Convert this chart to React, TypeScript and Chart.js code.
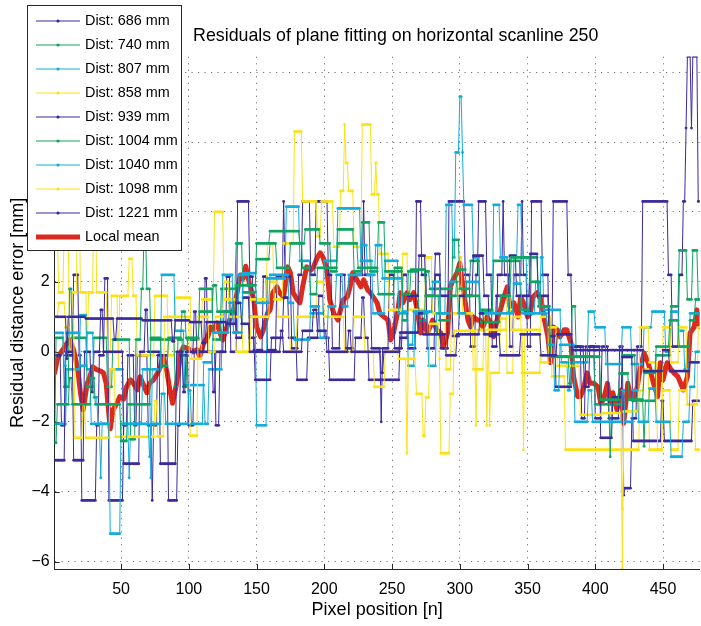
import React, { useEffect, useRef } from 'react';
import { Chart, registerables } from 'chart.js';

Chart.register(...registerables);

type Run = [number, number];

const FONT = '"Liberation Sans", Arial, Helvetica, sans-serif';

const chartTitle = 'Residuals of plane fitting on horizontal scanline 250';
const xLabel = 'Pixel position [n]';
const yLabel = 'Residual distance error [mm]';

const pixelRange: [number, number] = [1, 477];
const errorRange: [number, number] = [-6.21, 8.44];
const xTickValues = [50, 100, 150, 200, 250, 300, 350, 400, 450];
const yTickValues = [-6, -4, -2, 0, 2, 4, 6, 8];

const distanceLabels = [
  'Dist: 686 mm', 'Dist: 740 mm', 'Dist: 807 mm', 'Dist: 858 mm', 'Dist: 939 mm',
  'Dist: 1004 mm', 'Dist: 1040 mm', 'Dist: 1098 mm', 'Dist: 1221 mm',
];
const lineColors = [
  '#3b2a9c', '#10a462', '#13acdc', '#fbe11a', '#3b2a9c',
  '#10a462', '#13acdc', '#fbe11a', '#3b2a9c',
];
const meanLabel = 'Local mean';
const meanColor = '#db2a1e';

// Each scanline residual is stored as runs: [first pixel, residual in mm],
// the value holds for every pixel until the next run starts.
const dist686: Run[] = [
  [1, 1.0], [10, -0.2], [11, 1.0], [24, 0.95], [45, 0.35], [47, 0.95], [66, 0.9], [88, 0.3], [90, 0.9],
  [101, 0.85], [110, 0.25], [113, 0.85], [128, 0.8], [135, 1.4], [139, 0.8], [145, 0.0], [168, 0.6],
  [170, 0.0], [184, 0.6], [192, 1.2], [195, 0.6], [202, 0.0], [218, 0.6], [220, 0.0], [242, -0.6],
  [244, 0.0], [256, 0.55], [270, 1.1], [273, 0.5], [290, -0.1], [298, 0.5], [315, 1.1], [318, 0.5],
  [330, -0.1], [345, 0.5], [360, -0.1], [372, 0.5], [383, 0.05], [436, -0.55], [450, 0.05], [455, -0.55],
  [470, -0.3],
];
const dist740: Run[] = [
  [1, -2.6], [3, -1.5], [12, -0.75], [14, -1.5], [28, -0.75], [31, -1.5], [50, -2.55], [55, -1.5],
  [72, 0.4], [80, -0.4], [85, 0.4], [95, 1.15], [98, 0.4], [108, 1.15], [118, 1.9], [121, 1.15],
  [135, 1.9], [150, 2.65], [160, 3.1], [165, 2.4], [175, 3.1], [184, 2.4], [190, 1.65], [195, 2.4],
  [210, 3.1], [225, 2.4], [240, 1.65], [252, 2.4], [258, 1.65], [264, 2.35], [275, 1.6], [285, 0.9],
  [293, 1.6], [298, 2.35], [305, 1.6], [315, 0.85], [330, 1.6], [338, 2.7], [352, 2.0], [360, 1.3],
  [367, -0.14], [381, -0.9], [383, -0.14], [404, -1.37], [418, -0.62], [425, -1.37], [436, -0.6],
  [445, 0.15], [455, 0.9], [462, 0.15], [470, 0.9], [474, 1.5],
];
const dist807: Run[] = [
  [1, 0.54], [8, -0.4], [10, 0.54], [20, -0.4], [25, 0.54], [30, -1.3], [33, -2.06], [42, -5.2],
  [50, -2.06], [71, -3.0], [72, -2.06], [80, -1.2], [83, -2.06], [100, -1.1], [102, -2.06], [111, -0.3],
  [118, 0.55], [130, 1.4], [133, 0.55], [140, 2.25], [150, 1.4], [160, 2.2], [174, 1.4], [178, 0.35],
  [190, 1.3], [197, 0.4], [203, 1.3], [209, 2.2], [214, 1.3], [218, 2.2], [228, 3.05], [232, 2.2],
  [238, 3.05], [243, 2.1], [258, 1.15], [262, 0.2], [266, 1.15], [280, 2.0], [286, 1.1], [293, 2.0],
  [299, 1.1], [305, 2.0], [315, 1.1], [340, 1.95], [346, 1.1], [356, 2.0], [359, 1.1], [365, 0.2],
  [370, -1.1], [374, 0.2], [385, -2.0], [395, -1.1], [398, -2.0], [420, -1.1], [422, -2.0], [428, -1.1],
  [432, -2.0], [440, -1.05], [445, -2.0], [456, -3.0], [465, -2.0], [470, -1.0], [474, 0.0],
];
const dist858: Run[] = [
  [1, 1.0], [4, 1.4], [9, 0.7], [12, 1.0], [16, -2.46], [22, -1.5], [24, -2.46], [42, -0.5], [46, -2.43],
  [75, -1.4], [77, -2.42], [82, 1.0], [101, -2.4], [107, 1.0], [115, 0.0], [120, 1.0], [126, 2.0],
  [130, 1.0], [140, 0.0], [146, 1.0], [160, 2.0], [166, 1.0], [175, 0.0], [180, 1.0], [195, 2.0],
  [200, 1.0], [215, 0.0], [222, 1.0], [230, 0.0], [237, -1.0], [245, 0.0], [255, -0.2], [261, -2.9],
  [262, -0.2], [268, -1.2], [273, -2.4], [275, -1.3], [278, 0.8], [285, -0.2], [286, -2.9], [293, -1.2],
  [296, 0.6], [312, -2.1], [313, 0.63], [320, -2.1], [321, 0.63], [335, 1.6], [338, 0.63], [347, -2.8],
  [348, 0.63], [360, -0.3], [366, 0.7], [372, -0.4], [389, -1.8], [405, -1.75], [420, -6.2], [421, -1.7],
  [433, 0.7], [440, -0.3], [446, -2.8], [450, 0.7], [456, -0.3], [462, 0.7], [468, -1.5], [476, 0.7],
];
const dist939: Run[] = [
  [1, -3.1], [9, 0.0], [15, -3.1], [23, 0.0], [28, -1.15], [30, 0.0], [35, 1.2], [37, 0.0], [52, -3.2],
  [64, 0.0], [68, 1.2], [70, 0.0], [79, -3.2], [91, 0.0], [96, -1.15], [98, 0.0], [104, 1.15], [106, 0.0],
  [118, -1.15], [120, 0.0], [126, 1.15], [135, 0.4], [140, 1.55], [145, 0.4], [149, -0.8], [161, 0.4],
  [170, 1.55], [174, 0.4], [180, -0.8], [188, 0.4], [196, 1.6], [200, 0.4], [204, -0.8], [223, 0.4],
  [228, 1.55], [230, 0.4], [233, -0.8], [256, 0.4], [262, 1.6], [270, 2.75], [275, 1.6], [282, 2.8],
  [286, 1.6], [295, 0.45], [300, 1.6], [310, 2.75], [318, 1.6], [322, 0.45], [327, 1.6], [337, 2.75],
  [342, 1.6], [352, 2.8], [358, 1.6], [366, 0.45], [371, -1.0], [383, 0.15], [392, -1.0], [396, 0.15],
  [404, -2.46], [413, -1.3], [420, -0.15], [428, -2.55], [449, -1.4], [451, -2.55], [472, -1.4],
];
const dist1004: Run[] = [
  [1, -2.6], [2, 0.4], [8, -1.0], [12, 1.8], [14, 0.4], [25, -1.0], [30, 0.4], [40, -1.0], [44, 0.35],
  [57, -2.5], [61, 0.35], [65, 1.8], [67, 3.6], [69, 1.8], [72, 0.35], [90, -1.0], [92, 0.35], [96, -1.0],
  [99, 0.35], [108, 1.8], [118, 0.35], [124, 1.8], [135, 3.1], [140, 1.7], [150, 3.1], [160, 3.45],
  [182, 3.1], [186, 3.5], [197, 3.1], [205, 2.3], [210, 3.5], [222, 2.3], [228, 3.7], [234, 2.3],
  [240, 3.7], [245, 2.3], [258, 0.9], [262, 2.3], [270, 0.9], [275, 2.3], [278, 1.8], [295, 3.2],
  [300, 1.8], [308, 2.6], [315, 1.2], [325, 2.6], [345, 1.2], [352, 2.7], [358, 1.3], [367, -0.14],
  [383, 1.3], [386, -0.14], [400, -1.5], [411, -3.0], [412, -1.5], [420, -0.1], [430, -1.4], [436, -2.7],
  [437, -1.4], [445, -0.1], [456, 1.3], [462, 2.9], [468, 1.5], [472, 2.9], [476, 1.5],
];
const dist1040: Run[] = [
  [1, -2.06], [10, -0.5], [20, 1.05], [25, -0.5], [28, -2.06], [35, -3.6], [36, -2.06], [42, -0.5],
  [52, -2.06], [56, -3.6], [57, -2.06], [66, -0.5], [72, -3.6], [73, -0.5], [80, 2.2], [90, 0.6],
  [97, -0.95], [112, -2.06], [115, -0.5], [125, 2.2], [133, 0.55], [137, 2.2], [145, 1.0], [150, -2.1],
  [158, 2.1], [172, 4.15], [182, 2.6], [190, 1.1], [200, 2.6], [210, 4.1], [227, 2.6], [236, 1.1],
  [245, 2.6], [255, 1.1], [262, -0.4], [267, 1.1], [277, -0.4], [283, 1.1], [290, 4.2], [295, 2.7],
  [297, 5.7], [300, 7.3], [302, 5.7], [303, 4.2], [310, 2.7], [315, 1.15], [325, 4.2], [330, 2.7],
  [336, 1.15], [340, 2.7], [343, 4.2], [346, 2.7], [350, 1.1], [360, 2.7], [362, 1.2], [375, -0.3],
  [380, -1.1], [382, -0.3], [395, 1.15], [400, 0.7], [408, -0.35], [420, 0.7], [427, -0.35], [436, 0.7],
  [442, 1.15], [452, 0.0], [456, 1.15], [462, 0.6], [466, -0.5], [470, 1.1],
];
const dist1098: Run[] = [
  [1, 3.4], [4, 1.7], [8, 3.4], [12, 0.0], [14, 1.7], [18, 5.0], [20, 1.7], [25, 0.0], [26, 1.7],
  [30, 5.1], [32, 1.7], [40, 0.0], [43, 1.6], [48, -0.5], [49, 1.6], [56, 2.66], [59, 1.6], [62, -0.1],
  [75, 1.6], [85, -0.1], [90, 1.55], [102, -0.2], [110, 1.5], [119, 4.0], [126, 1.5], [135, 0.0],
  [145, 1.5], [158, 3.1], [163, 1.5], [170, 3.1], [178, 6.3], [184, 4.3], [195, 3.3], [198, 4.3],
  [207, 3.0], [212, 4.6], [215, 6.5], [216, 5.4], [218, 4.6], [222, 3.0], [228, 6.5], [235, 4.5],
  [238, 5.4], [239, 4.5], [241, 2.8], [248, 1.2], [258, 2.8], [262, 1.2], [275, 2.7], [280, 1.1],
  [290, -0.5], [294, 1.1], [300, 2.7], [302, 1.1], [310, -0.5], [318, 1.1], [322, -2.1], [323, -0.6],
  [330, 0.95], [335, -0.6], [340, 1.0], [346, -0.6], [360, 1.0], [368, -0.7], [378, -2.8], [420, -4.5],
  [421, -2.8], [433, -1.1], [436, -0.5], [440, -2.8], [450, -1.1], [456, -2.8], [462, -1.1], [468, -1.5],
  [474, -2.8],
];
const dist1221: Run[] = [
  [1, -0.1], [6, -2.1], [9, -0.1], [15, 2.2], [19, -0.1], [21, -4.25], [32, -2.1], [34, -0.1], [38, 2.1],
  [41, -4.25], [52, -2.1], [55, -0.1], [60, -2.1], [62, -0.1], [70, -2.1], [73, -4.25], [74, -2.1],
  [77, -0.1], [85, -4.25], [92, -2.1], [94, -0.1], [100, -2.1], [104, 0.0], [112, 2.1], [114, 0.0],
  [120, -2.1], [123, 0.0], [128, 2.15], [131, 0.0], [136, 4.3], [145, 2.15], [148, 0.05], [155, 2.15],
  [158, 0.05], [165, 2.15], [170, 4.3], [171, 2.15], [176, 0.1], [181, 2.2], [184, 4.3], [190, 2.2],
  [194, 4.3], [203, 2.2], [206, 0.1], [212, 2.2], [216, 0.1], [222, 2.2], [229, 4.3], [230, 2.2],
  [235, 0.1], [242, -2.0], [243, 0.1], [248, 2.2], [252, 0.1], [258, 2.2], [262, 0.1], [268, 4.3],
  [272, 2.2], [276, 0.1], [282, 2.2], [286, 0.1], [292, 4.3], [304, 2.2], [308, 0.15], [312, 2.2],
  [314, 4.3], [320, 2.2], [324, 0.15], [328, 2.2], [332, 4.3], [333, 2.2], [337, 0.15], [340, 2.2],
  [346, 4.3], [347, 2.2], [350, 0.15], [353, 4.3], [361, 2.2], [366, 0.15], [369, 4.3], [380, 2.2],
  [383, 0.15], [390, -1.9], [393, 0.15], [400, -1.9], [405, 0.15], [410, -1.9], [418, 0.15], [421, -4.1],
  [422, -3.9], [427, -1.9], [431, 0.15], [435, 4.3], [454, 2.2], [457, 0.15], [462, 2.2], [465, 4.3],
  [467, 6.4], [468, 8.45], [471, 6.4], [472, 8.45], [476, 4.3],
];

// Local mean over all scanlines: [pixel, mean residual in mm]
const localMean: Run[] = [
  [1, -0.6], [3, -0.2], [5, -0.05], [7, 0.06], [10, 0.25], [12, 0.34], [15, 0.05], [18, -0.5], [20, -1.17],
  [22, -1.66], [25, -0.9], [27, -0.7], [29, -0.43], [32, -0.51], [35, -0.55], [37, -0.6], [39, -0.9],
  [40, -1.37], [42, -2.2], [44, -1.66], [47, -1.47], [49, -1.28], [52, -1.35], [54, -1.0], [57, -0.8],
  [59, -0.9], [62, -1.09], [64, -0.71], [66, -0.9], [69, -1.17], [71, -0.9], [74, -0.8], [77, -0.6],
  [79, -0.43], [81, -0.14], [84, -0.6], [86, -1.09], [88, -1.47], [91, -0.9], [94, -0.03], [96, 0.14],
  [99, 0.1], [101, 0.06], [103, 0.0], [106, 0.06], [108, -0.14], [111, 0.26], [114, 0.43], [116, 0.71],
  [118, 0.63], [121, 0.83], [123, 0.54], [125, 0.34], [128, 0.7], [131, 1.0], [133, 1.2], [136, 1.77],
  [138, 2.2], [140, 2.1], [142, 2.45], [145, 1.9], [148, 1.49], [150, 0.71], [153, 0.43], [155, 0.63],
  [158, 1.1], [160, 1.2], [162, 1.69], [165, 1.86], [167, 1.69], [170, 1.57], [173, 2.43], [175, 2.26],
  [177, 1.69], [180, 1.49], [182, 1.4], [184, 1.86], [187, 2.43], [190, 2.34], [192, 2.43], [195, 2.71],
  [197, 2.83], [199, 2.71], [202, 2.34], [204, 1.49], [207, 1.1], [210, 0.91], [212, 1.2], [214, 1.49],
  [217, 1.57], [219, 1.86], [221, 2.26], [224, 2.06], [227, 1.86], [229, 2.06], [232, 1.77], [234, 1.69],
  [236, 1.57], [239, 1.4], [241, 1.1], [244, 1.0], [247, 0.91], [249, 0.34], [251, 0.54], [254, 1.1],
  [256, 1.69], [258, 1.4], [261, 1.69], [263, 1.49], [266, 1.69], [269, 1.1], [271, 0.54], [273, 0.91],
  [276, 0.54], [278, 0.71], [280, 0.91], [283, 0.63], [286, 0.54], [288, 0.14], [291, 0.54], [293, 1.86],
  [295, 2.06], [298, 2.26], [300, 2.54], [303, 1.69], [306, 0.91], [308, 0.71], [310, 1.0], [313, 0.91],
  [315, 0.91], [317, 0.71], [320, 1.0], [323, 0.83], [325, 0.43], [328, 1.0], [330, 1.2], [332, 1.49],
  [335, 1.86], [337, 1.29], [340, 1.4], [343, 1.0], [345, 1.57], [347, 1.4], [350, 1.0], [352, 1.1],
  [354, 1.57], [357, 1.69], [360, 1.49], [362, 1.0], [365, 0.43], [367, -0.31], [369, 0.71], [372, 0.63],
  [374, 0.43], [377, 0.63], [379, 0.63], [382, 0.26], [384, -0.71], [387, -1.28], [389, -1.28],
  [391, -1.09], [394, -0.6], [396, -0.9], [399, -0.9], [402, -1.0], [404, -1.47], [406, -1.37],
  [409, -0.9], [411, -1.47], [413, -1.17], [416, -1.66], [419, -1.09], [421, -2.04], [424, -0.9],
  [426, -1.28], [428, -1.37], [431, -1.0], [433, -0.51], [436, -0.03], [439, -0.31], [441, -0.6],
  [443, -0.9], [446, -1.28], [448, -0.31], [450, -0.8], [453, -0.31], [456, -0.51], [458, -0.6],
  [461, -0.71], [463, -0.9], [465, -1.09], [468, -0.71], [470, 0.54], [473, 0.71], [475, 1.2], [477, 0.71],
];

const scanlines: Run[][] = [
  dist686, dist740, dist807, dist858, dist939, dist1004, dist1040, dist1098, dist1221,
];

// One point per pixel: each run's value is held until the next run begins.
function runsToPoints(runs: Run[], last: number) {
  const pts: { x: number; y: number }[] = [];
  let k = 0;
  for (let n = runs[0][0]; n <= last; n++) {
    while (k + 1 < runs.length && runs[k + 1][0] <= n) k++;
    pts.push({ x: n, y: runs[k][1] });
  }
  return pts;
}

const fmtTick = (v: number) => (v < 0 ? '\u2212' + Math.abs(v) : String(v));

const decorations = {
  id: 'decorations',
  beforeDatasetsDraw(chart: any) {
    const { ctx, chartArea: a, scales } = chart;
    ctx.save();
    ctx.strokeStyle = '#262626';
    ctx.lineWidth = 1;
    ctx.beginPath();
    for (const v of xTickValues) {
      const x = Math.round(scales.x.getPixelForValue(v)) + 0.5;
      ctx.moveTo(x, a.bottom);
      ctx.lineTo(x, a.bottom - 5);
    }
    for (const v of yTickValues) {
      const y = Math.round(scales.y.getPixelForValue(v)) + 0.5;
      ctx.moveTo(a.left, y);
      ctx.lineTo(a.left + 5, y);
    }
    ctx.stroke();
    ctx.restore();
  },
  afterDraw(chart: any) {
    const { ctx } = chart;
    ctx.save();
    // title
    ctx.fillStyle = '#000';
    ctx.font = `17.8px ${FONT}`;
    ctx.textAlign = 'center';
    ctx.textBaseline = 'alphabetic';
    ctx.fillText(chartTitle, 395.7, 40.7);

    // legend box
    const lx = 27.5, ly = 5.5, lw = 154, lh = 245;
    ctx.fillStyle = '#ffffff';
    ctx.fillRect(lx, ly, lw, lh);
    ctx.strokeStyle = '#262626';
    ctx.lineWidth = 1;
    ctx.strokeRect(lx, ly, lw, lh);

    const entries = distanceLabels.map((t, i) => ({ text: t, color: lineColors[i], width: 1, dot: true }));
    entries.push({ text: meanLabel, color: meanColor, width: 5, dot: false });
    ctx.font = `14.4px ${FONT}`;
    ctx.textAlign = 'left';
    ctx.textBaseline = 'middle';
    entries.forEach((e, i) => {
      const y = 21 + i * 24;
      ctx.strokeStyle = e.color;
      ctx.lineWidth = e.width;
      ctx.beginPath();
      ctx.moveTo(36, y);
      ctx.lineTo(80, y);
      ctx.stroke();
      if (e.dot) {
        ctx.fillStyle = e.color;
        ctx.beginPath();
        ctx.arc(58, y, 1.6, 0, Math.PI * 2);
        ctx.fill();
      }
      ctx.fillStyle = '#000';
      ctx.fillText(e.text, 85, y + 0.5);
    });
    ctx.restore();
  },
};

export default function App() {
  const canvasRef = useRef<HTMLCanvasElement | null>(null);

  useEffect(() => {
    const canvas = canvasRef.current;
    if (!canvas) return;

    const datasets: any[] = scanlines.map((runs, i) => ({
      label: distanceLabels[i],
      data: runsToPoints(runs, pixelRange[1]),
      borderColor: lineColors[i],
      backgroundColor: lineColors[i],
      borderWidth: 1,
      pointRadius: 1.4,
      pointBorderWidth: 0,
      pointBackgroundColor: lineColors[i],
      pointHoverRadius: 0,
      tension: 0,
    }));
    datasets.push({
      label: meanLabel,
      data: localMean.map(([x, y]) => ({ x, y })),
      borderColor: meanColor,
      backgroundColor: meanColor,
      borderWidth: 5,
      pointRadius: 0,
      borderJoinStyle: 'round',
      borderCapStyle: 'round',
      tension: 0,
    });

    const chart = new Chart(canvas, {
      type: 'line',
      data: { datasets },
      options: {
        animation: false,
        responsive: false,
        events: [],
        layout: { padding: { left: 0, right: 1, top: 56.7, bottom: 0 } },
        plugins: { legend: { display: false }, title: { display: false }, tooltip: { enabled: false } },
        scales: {
          x: {
            type: 'linear',
            min: pixelRange[0],
            max: pixelRange[1],
            afterBuildTicks: (s: any) => { s.ticks = xTickValues.map((v) => ({ value: v })); },
            afterFit: (s: any) => { s.height = 57; },
            grid: { color: 'rgba(0,0,0,0.55)', lineWidth: 1, drawTicks: false },
            border: { display: true, color: '#262626', width: 1, dash: [1.2, 5.3] },
            ticks: { font: { family: FONT, size: 16 }, color: '#000', padding: 11, maxRotation: 0, callback: (v: any) => fmtTick(Number(v)) },
            title: { display: true, text: xLabel, font: { family: FONT, size: 18 }, color: '#000', padding: { top: 0, bottom: 5 } },
          },
          y: {
            type: 'linear',
            min: errorRange[0],
            max: errorRange[1],
            afterBuildTicks: (s: any) => { s.ticks = yTickValues.map((v) => ({ value: v })); },
            afterFit: (s: any) => { s.width = 54.7; },
            grid: { color: 'rgba(0,0,0,0.55)', lineWidth: 1, drawTicks: false },
            border: { display: true, color: '#262626', width: 1, dash: [1.2, 5.3] },
            ticks: { font: { family: FONT, size: 16 }, color: '#000', padding: 5, callback: (v: any) => fmtTick(Number(v)) },
            title: { display: true, text: yLabel, font: { family: FONT, size: 18 }, color: '#000', padding: { top: 7, bottom: 0 } },
          },
        },
      },
      plugins: [decorations],
    });

    return () => chart.destroy();
  }, []);

  return (
    <div style={{ position: 'absolute', left: 0, top: 0, width: 701, height: 626, background: '#ffffff' }}>
      <canvas ref={canvasRef} width={701} height={626} style={{ display: 'block', width: 701, height: 626 }} />
    </div>
  );
}
